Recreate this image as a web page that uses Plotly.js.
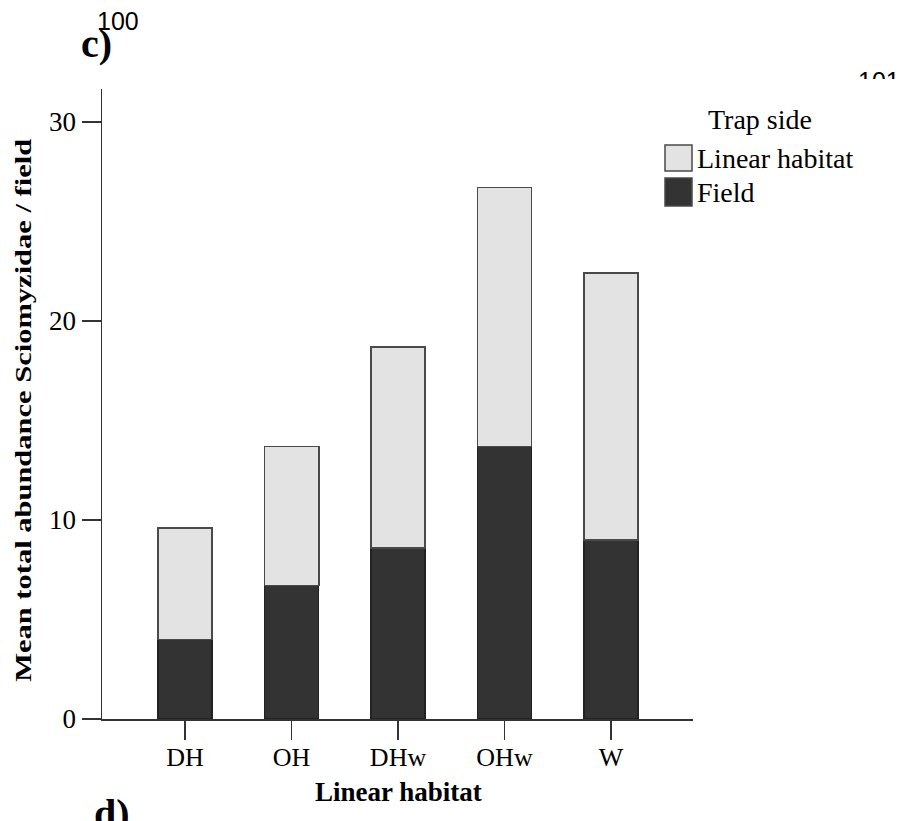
<!DOCTYPE html>
<html>
<head>
<meta charset="utf-8">
<script src="https://cdn.plot.ly/plotly-3.0.1.min.js"></script>
<style>
  html, body { margin: 0; padding: 0; background: #fff; overflow: hidden; }
  #wrap { position: relative; width: 901px; height: 821px; }
  #chart { width: 901px; height: 821px; }
  /* page edge of the following figure's number row */
  #cut { position: absolute; left: 840px; top: 79px; width: 61px; height: 16px; background: #fff; }
</style>
</head>
<body>
<div id="wrap">
  <div id="chart"></div>
  <div id="cut"></div>
</div>
<script>
// Mean total abundance of Sciomyzidae per field, split by trap side
const habitats = ['DH', 'OH', 'DHw', 'OHw', 'W'];
const fieldSide = [4.0, 6.7, 8.6, 13.7, 9.0];
const linearSide = [5.6, 7.0, 10.1, 13.0, 13.4];
const yTicks = [0, 10, 20, 30];

// plot frame in page pixels
const W = 901, H = 821, L = 102, R = 693, T = 89, B = 719;
const fx = px => (px - L) / (R - L);
const fy = py => (B - py) / (B - T);

const serif = 'Liberation Serif, Times New Roman, serif';
const sans = 'Liberation Sans, Arial, sans-serif';
const LIGHT = '#e3e3e3', DARK = '#333333', EDGE = '#4a4a4a';

const traces = [
  {
    type: 'bar', name: 'Field', x: habitats, y: fieldSide,
    width: 0.51,
    marker: { color: DARK, line: { color: '#222', width: 1.5 } },
    hoverinfo: 'x+y+name'
  },
  {
    type: 'bar', name: 'Linear habitat', x: habitats, y: linearSide,
    width: 0.51,
    marker: { color: LIGHT, line: { color: EDGE, width: 1.6 } },
    hoverinfo: 'x+y+name'
  }
];

const ann = (text, x, y, o) => Object.assign({
  text, xref: 'paper', yref: 'paper', x: fx(x), y: fy(y),
  showarrow: false, xanchor: 'center', yanchor: 'middle',
  font: { family: serif, size: 27, color: '#000' }
}, o || {});

const annotations = [
  ann('<b>Mean total abundance Sciomyzidae / field</b>', 23, 410,
      { textangle: -90, font: { family: serif, size: 24, color: '#000' } }),
  ann('<b>Linear habitat</b>', 398, 792, { font: { family: serif, size: 27, color: '#000' } }),
  ann('Trap side', 760, 119, { font: { family: serif, size: 28, color: '#000' } }),
  ann('Linear habitat', 695, 158, { xanchor: 'left', font: { family: serif, size: 28, color: '#000' } }),
  ann('Field', 695, 192, { xanchor: 'left', font: { family: serif, size: 28, color: '#000' } }),
  ann('<b>c)</b>', 96, 43, { font: { family: serif, size: 40, color: '#000' } }),
  ann('100', 118, 21, { font: { family: sans, size: 25, color: '#000' } }),
  ann('101', 879, 81, { font: { family: sans, size: 25, color: '#000' } }),
  ann('<b>d)</b>', 112, 813, { font: { family: serif, size: 40, color: '#000' } })
];

// legend swatches
const swatch = (y0, y1, fill) => ({
  type: 'rect', xref: 'paper', yref: 'paper',
  x0: fx(665), x1: fx(692), y0: fy(y1), y1: fy(y0),
  fillcolor: fill, line: { color: EDGE, width: 1.5 }
});

const layout = {
  width: W, height: H,
  margin: { l: L, r: W - R, t: T, b: H - B, pad: 0 },
  paper_bgcolor: '#fff', plot_bgcolor: '#fff',
  barmode: 'stack',
  showlegend: false,
  xaxis: {
    range: [-0.78, 4.77],
    showgrid: false, zeroline: false,
    showline: true, linecolor: '#333', linewidth: 1.5,
    ticks: 'outside', ticklen: 19, tickwidth: 1.5, tickcolor: '#333',
    ticklabelstandoff: -5,
    tickfont: { family: serif, size: 26, color: '#000' },
    fixedrange: true
  },
  yaxis: {
    range: [0, 31.65],
    tickvals: yTicks, ticktext: yTicks.map(String),
    showgrid: false, zeroline: false,
    showline: true, linecolor: '#333', linewidth: 1.5,
    ticks: 'outside', ticklen: 19, tickwidth: 1.5, tickcolor: '#333',
    tickfont: { family: serif, size: 27, color: '#000' },
    fixedrange: true
  },
  shapes: [swatch(145, 171, LIGHT), swatch(178, 206, DARK)],
  annotations
};

Plotly.newPlot('chart', traces, layout, { displayModeBar: false, staticPlot: true }).then(gd => {
  // the axis title runs condensed along the full height of the axis
  gd.querySelectorAll('.annotation-text').forEach(t => {
    if (t.textContent.indexOf('Mean total abundance') === 0) {
      t.setAttribute('textLength', '543');
      t.setAttribute('lengthAdjust', 'spacingAndGlyphs');
    }
  });
});
</script>
</body>
</html>
